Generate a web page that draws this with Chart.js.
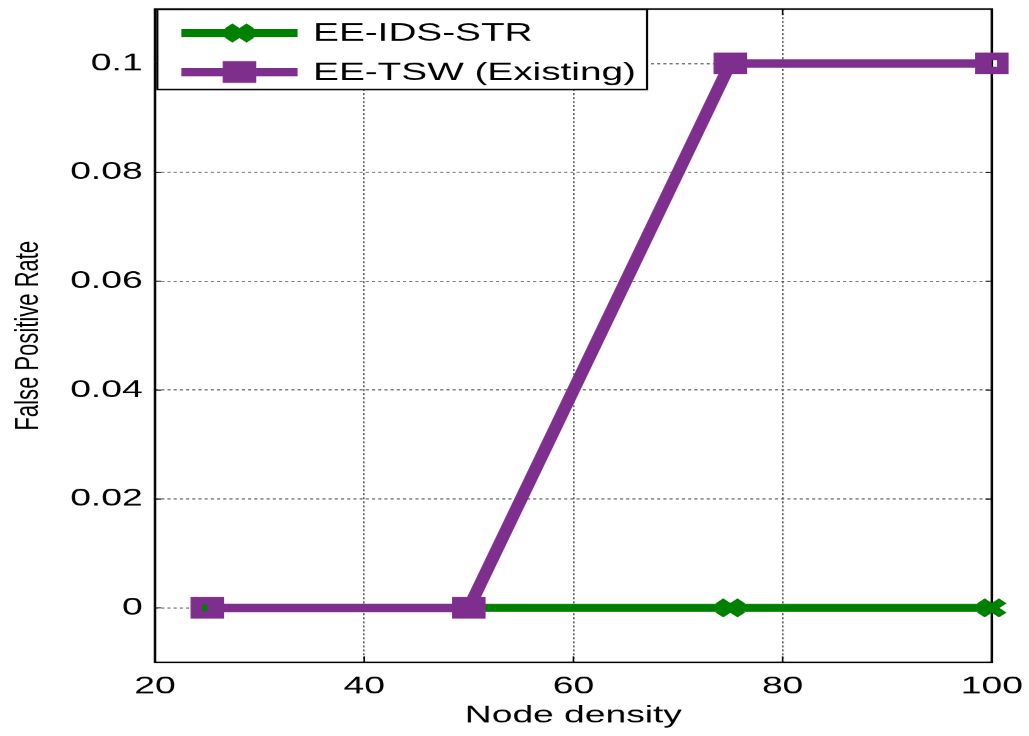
<!DOCTYPE html>
<html>
<head>
<meta charset="utf-8">
<script src="https://cdn.jsdelivr.net/npm/chart.js@4/dist/chart.umd.min.js"></script>
<style>
  html, body { margin: 0; padding: 0; background: #fff; }
  #wrap { width: 1029px; height: 736px; overflow: hidden; position: relative; }
  /* the figure is drawn narrow and stretched sideways */
  #fpr { position: absolute; left: 0; top: 0; transform-origin: 0 0; transform: scaleX(1.5497); }
</style>
</head>
<body>
<div id="wrap"><canvas id="fpr" width="664" height="736"></canvas></div>
<script>
const nodeDensity = [25, 50, 75, 100]
const idsStrFpr = [0, 0, 0, 0]
const tswFpr = [0, 0, 0.1, 0.1]
const seriesNames = ['EE-IDS-STR', 'EE-TSW (Existing)']
const xTicks = [20, 40, 60, 80, 100]
const yTicks = [0, 0.02, 0.04, 0.06, 0.08, 0.1]

const GREEN = '#008000'
const PURPLE = '#7e2f8e'
const FONT = "'Liberation Sans', Arial, sans-serif"

const toPoints = (xs, ys) => xs.map((x, i) => ({x: x, y: ys[i]}))

// frame, inward tick marks and the boxed legend in the upper left
const framePlugin = {
    id: 'frame',
    beforeDatasetsDraw(chart) {
        const {ctx, chartArea: a, scales} = chart
        ctx.save()
        ctx.strokeStyle = '#000'
        ctx.lineWidth = 1
        xTicks.forEach(t => {
            const px = scales.x.getPixelForValue(t)
            ctx.beginPath()
            ctx.moveTo(px, a.bottom); ctx.lineTo(px, a.bottom - 6)
            ctx.moveTo(px, a.top); ctx.lineTo(px, a.top + 6)
            ctx.stroke()
        })
        yTicks.forEach(t => {
            const py = scales.y.getPixelForValue(t)
            ctx.beginPath()
            ctx.moveTo(a.left, py); ctx.lineTo(a.left + 4, py)
            ctx.moveTo(a.right, py); ctx.lineTo(a.right - 4, py)
            ctx.stroke()
        })
        ctx.lineWidth = 1.6
        ctx.strokeRect(a.left, a.top, a.right - a.left, a.bottom - a.top)
        ctx.restore()
    },
    afterDraw(chart) {
        const ctx = chart.ctx
        const top = chart.chartArea.top
        const box = {x: 101.5, y: top + 0.5, w: 316, h: 80}
        ctx.save()
        ctx.fillStyle = '#fff'
        ctx.fillRect(box.x, box.y, box.w, box.h)
        ctx.strokeStyle = '#000'
        ctx.lineWidth = 1.4
        ctx.strokeRect(box.x, box.y, box.w, box.h)
        const rows = [top + 24, top + 63]
        chart.data.datasets.forEach((ds, i) => {
            const y = rows[i]
            ctx.strokeStyle = ds.borderColor
            ctx.lineWidth = ds.borderWidth
            ctx.beginPath()
            ctx.moveTo(117, y); ctx.lineTo(192, y)
            ctx.stroke()
            ctx.fillStyle = ds.pointBackgroundColor
            ctx.strokeStyle = ds.borderColor
            ctx.lineWidth = ds.pointBorderWidth
            Chart.helpers.drawPoint(ctx, {pointStyle: ds.pointStyle, radius: ds.pointRadius, rotation: 0, borderWidth: ds.pointBorderWidth}, 154.5, y)
            ctx.fillStyle = '#000'
            ctx.font = '25px ' + FONT
            ctx.textBaseline = 'middle'
            ctx.textAlign = 'left'
            ctx.fillText(ds.label, 202, y + 1)
        })
        ctx.restore()
    }
}

new Chart(document.getElementById('fpr'), {
    type: 'line',
    data: {
        datasets: [
            {
                label: seriesNames[0],
                data: toPoints(nodeDensity, idsStrFpr),
                borderColor: GREEN,
                borderWidth: 8,
                pointStyle: 'crossRot',
                pointRadius: 10,
                pointBorderWidth: 7,
                pointBackgroundColor: GREEN,
                pointBorderColor: GREEN,
                order: 2,
                clip: false
            },
            {
                label: seriesNames[1],
                data: toPoints(nodeDensity, tswFpr),
                borderColor: PURPLE,
                borderWidth: 8.5,
                pointStyle: 'rect',
                pointRadius: 10,
                pointBorderWidth: 7.5,
                pointBackgroundColor: 'rgba(0,0,0,0)',
                pointBorderColor: PURPLE,
                order: 1,
                clip: false
            }
        ]
    },
    options: {
        responsive: false,
        animation: false,
        devicePixelRatio: 1.5497,
        layout: {autoPadding: false, padding: {top: 9, right: 24, left: 0, bottom: 0}},
        plugins: {legend: {display: false}, tooltip: {enabled: false}},
        elements: {line: {tension: 0, borderJoinStyle: 'miter', borderCapStyle: 'butt'}},
        scales: {
            x: {
                type: 'linear',
                min: 20,
                max: 100,
                afterBuildTicks: s => { s.ticks = xTicks.map(v => ({value: v})) },
                afterFit: s => { s.height = 74; s.paddingLeft = 0; s.paddingRight = 0 },
                // grid line dash is read from border.dash in v4
                border: {display: false, dash: [2, 2]},
                grid: {color: '#555', lineWidth: 1, drawTicks: false},
                ticks: {color: '#000', font: {family: FONT, size: 24}, padding: 10, maxRotation: 0},
                title: {display: true, text: 'Node density', color: '#000', font: {family: FONT, size: 24}, padding: {top: 0, bottom: 6}}
            },
            y: {
                min: -0.01,
                max: 0.11,
                afterBuildTicks: s => { s.ticks = yTicks.map(v => ({value: v})) },
                afterFit: s => { s.width = 100; s.paddingTop = 0; s.paddingBottom = 0 },
                border: {display: false, dash: [2, 2]},
                grid: {color: '#555', lineWidth: 1, drawTicks: false},
                ticks: {
                    color: '#000', font: {family: FONT, size: 24}, padding: 8,
                    callback: v => String(Math.round(v * 100) / 100)
                },
                title: {display: true, text: 'False Positive Rate', color: '#000', font: {family: FONT, size: 22}, padding: {top: 5, bottom: 0}}
            }
        }
    },
    plugins: [framePlugin]
})
</script>
</body>
</html>
